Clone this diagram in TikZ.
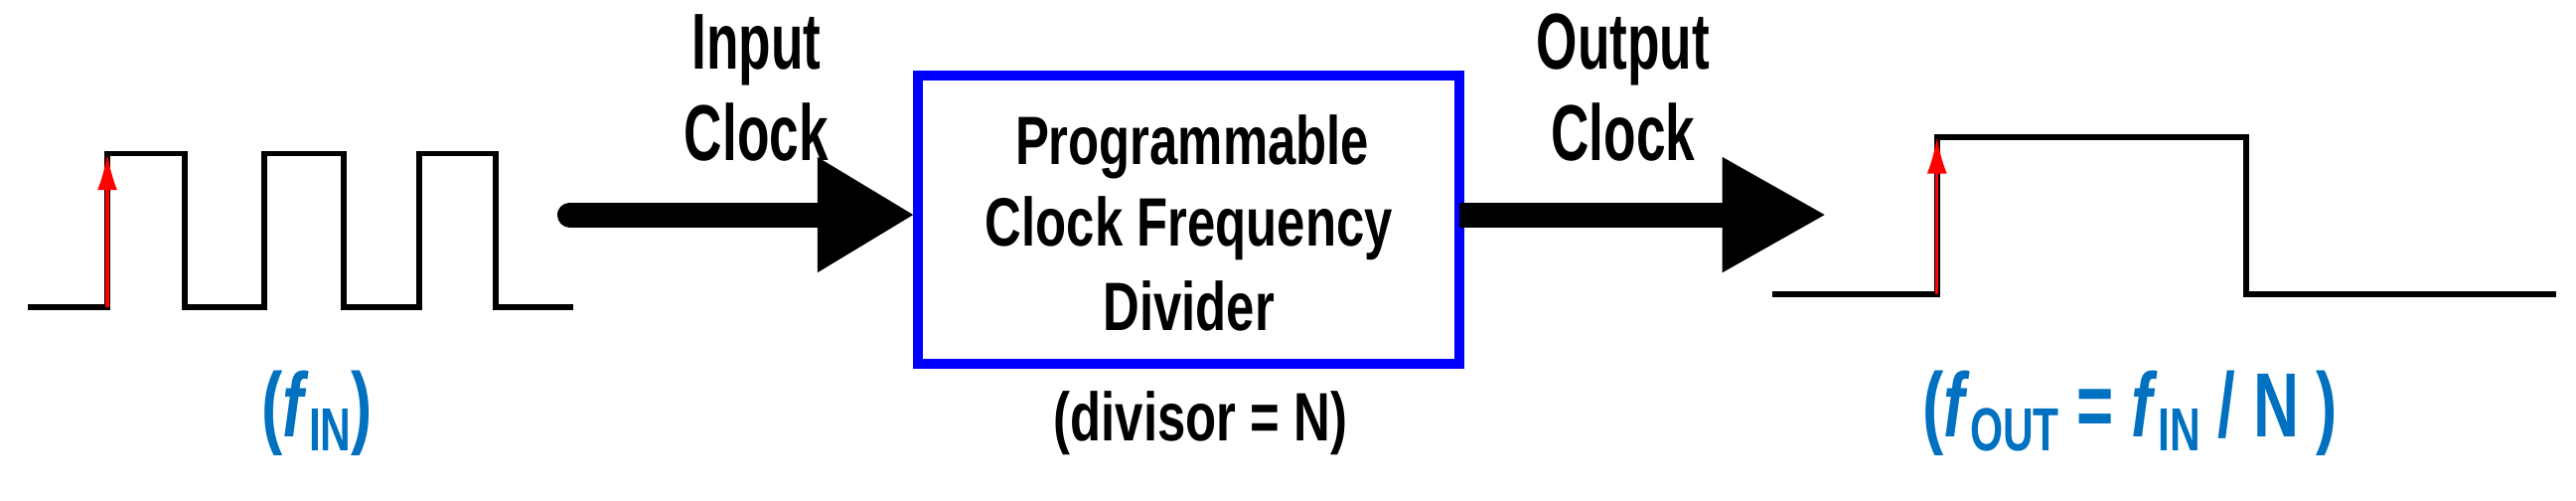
\documentclass[tikz,border=0pt]{standalone}
\usepackage{fontspec}
\setmainfont{Liberation Sans}
\usetikzlibrary{arrows.meta}
\begin{document}
\begin{tikzpicture}[x=1pt,y=-1pt,
  wave/.style={line width=3.5pt},
  redarr/.style={red,line width=2pt,-{Latex[length=22pt,width=12pt]}},
  lbl/.style={font=\bfseries\fontsize{40}{48}\selectfont,xscale=0.8,yscale=1.2,inner sep=0},
  boxt/.style={font=\bfseries\fontsize{36}{48}\selectfont,xscale=0.85,yscale=1.15,inner sep=0},
  bluet/.style={font=\bfseries\fontsize{48}{56}\selectfont,xscale=0.8,yscale=1.15,inner sep=0,text={rgb,255:red,0;green,112;blue,192}},
  fat/.style={line width=15pt}]
\useasboundingbox (0,0) rectangle (1560,303);
% input waveform
\draw[wave] (17,186) -- (65,186) -- (65,93) -- (112,93) -- (112,186) -- (160,186) -- (160,93) -- (208,93) -- (208,186) -- (254,186) -- (254,93) -- (300,93) -- (300,186) -- (347,186);
\coordinate (r1a) at (65,186); \coordinate (r1b) at (65,93);
\draw[redarr] (r1a) -- (r1b);
% labels
\node[lbl] (in1) at (458,30) {Input};
\node[lbl] (in2) at (458,80) {Clock};
\node[lbl] (out1) at (983,30) {Output};
\node[lbl] (out2) at (983,80) {Clock};
% box
\node[draw={rgb,255:red,0;green,0;blue,255},line width=6pt,minimum width=328pt,minimum height=174pt] (box) at (720,133) {};
\node[boxt] (t1) at (722,89) {Programmable};
\node[boxt] (t2) at (720,138) {Clock Frequency};
\node[boxt] (t3) at (720,185) {Divider};
\node[boxt] (div) at (727,256) {(divisor = N)};
% arrows
\coordinate (a1s) at (345,130);
\draw[fat,line cap=round] (a1s) -- (500,130);
\fill (495,95) -- (553,130) -- (495,165) -- cycle;
\draw[fat] (box.east) ++(-3,-3) -- (1050,130);
\fill (1043,95) -- (1105,130) -- (1043,165) -- cycle;
% output waveform
\draw[wave] (1073,178) -- (1173,178) -- (1173,83) -- (1360,83) -- (1360,178) -- (1548,178);
\coordinate (r2a) at (1173,178); \coordinate (r2b) at (1173,83);
\draw[redarr] (r2a) -- (r2b);
% blue texts
\node[bluet] (fin) at (192,250) {(\textit{f}\raisebox{-0.15em}{\fontsize{32}{36}\selectfont IN})};
\node[bluet] (fout) at (1290,250) {(\textit{f}\raisebox{-0.15em}{\fontsize{32}{36}\selectfont OUT} = \textit{f}\raisebox{-0.15em}{\fontsize{32}{36}\selectfont IN} / N )};
\end{tikzpicture}
\end{document}
